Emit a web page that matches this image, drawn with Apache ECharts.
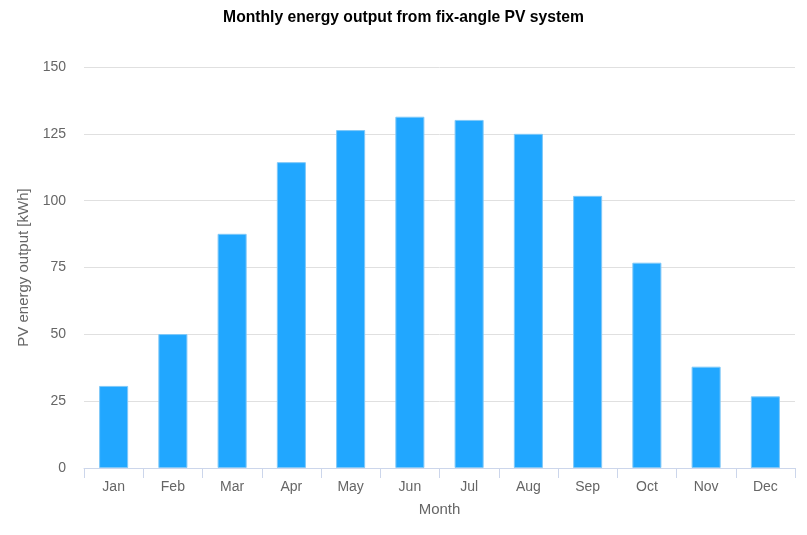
<!DOCTYPE html>
<html>
<head>
<meta charset="utf-8">
<script src="https://cdn.jsdelivr.net/npm/echarts@6/dist/echarts.min.js"></script>
<style>
html,body{margin:0;padding:0;background:#fff;}
#main{width:807px;height:535px;}
</style>
</head>
<body>
<div id="main"></div>
<script>
var months = ['Jan','Feb','Mar','Apr','May','Jun','Jul','Aug','Sep','Oct','Nov','Dec'];
var output = [30.7, 50.1, 87.6, 114.4, 126.4, 131.4, 130.2, 125.0, 101.8, 76.8, 37.9, 26.8];
var yTicks = [0, 25, 50, 75, 100, 125, 150];

var myChart = echarts.init(document.getElementById('main'));
var option = {
    backgroundColor: '#fff',
    title: {
        text: 'Monthly energy output from fix-angle PV system',
        left: 'center',
        top: 5,
        textStyle: {
            color: '#000',
            fontSize: 15.7,
            fontWeight: 'bold',
            fontFamily: 'Liberation Sans, Arial, sans-serif'
        }
    },
    grid: { left: 84, right: 12, top: 67, bottom: 67 },
    xAxis: {
        type: 'category',
        data: months,
        name: 'Month',
        nameLocation: 'middle',
        nameGap: 34,
        nameTextStyle: { color: '#666', fontSize: 15, fontFamily: 'Liberation Sans, Arial, sans-serif' },
        axisLine: { lineStyle: { color: '#ccd6eb' } },
        axisTick: { show: true, length: 10, lineStyle: { color: '#ccd6eb' } },
        axisLabel: { color: '#666', fontSize: 14, margin: 12, fontFamily: 'Liberation Sans, Arial, sans-serif' }
    },
    yAxis: {
        type: 'value',
        min: yTicks[0],
        max: yTicks[yTicks.length - 1],
        interval: 25,
        name: 'PV energy output [kWh]',
        nameLocation: 'middle',
        nameGap: 49,
        nameTextStyle: { color: '#666', fontSize: 15, fontFamily: 'Liberation Sans, Arial, sans-serif' },
        axisLine: { show: false },
        axisTick: { show: false },
        axisLabel: { color: '#666', fontSize: 14, margin: 18, fontFamily: 'Liberation Sans, Arial, sans-serif' },
        splitLine: { lineStyle: { color: '#e0e0e0' } }
    },
    series: [{
        type: 'bar',
        data: output,
        barWidth: '49%',
        itemStyle: {
            color: '#21a7ff',
            borderColor: '#7fc8f8',
            borderWidth: 1
        }
    }]
};
myChart.setOption(option);
</script>
</body>
</html>
